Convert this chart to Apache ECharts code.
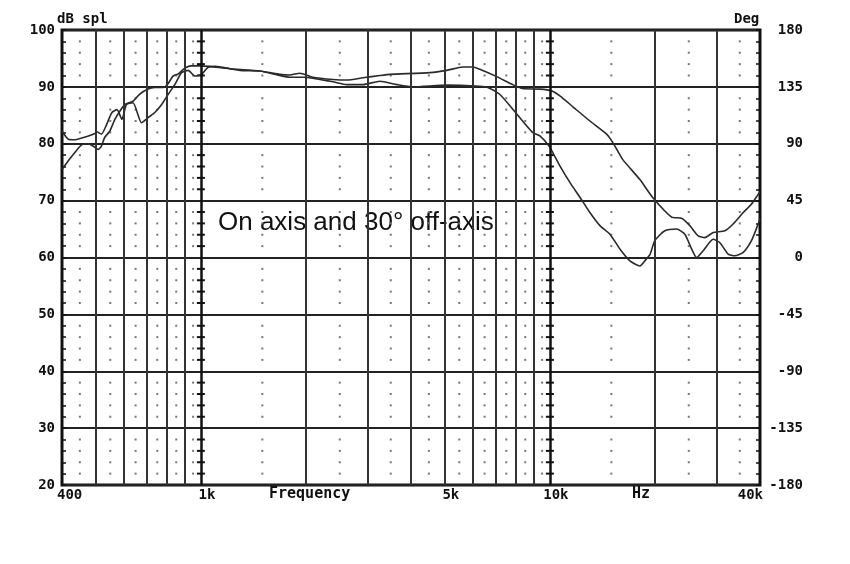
<!DOCTYPE html>
<html><head><meta charset="utf-8">
<script src="https://cdn.jsdelivr.net/npm/echarts@6/dist/echarts.min.js"></script>
<style>html,body{margin:0;padding:0;background:#fff}#c{width:850px;height:564px}</style>
</head><body><div id="c"></div>
<script>
// On-axis response (Hz, dB SPL)
const onAxisFreq = [400,417,436,455,474,497,503,519,537,556,575,594,612,639,676,706,738,772,806,842,880,920,961,1005,1047,1100,1211,1293,1476,1577,1684,1798,1921,2093,2390,2621,2914,3259,3481,4529,5065,5629,6013,6297,7041,7820,8350,9362,10110,10680,11640,13020,14540,15150,16140,18110,19730,22330,23850,25180,26610,27800,29370,31720,33500,35810,37840,39520,40000];
const onAxisDb   = [82.2,80.8,80.7,81.0,81.3,81.8,82.1,81.7,83.4,85.5,86.0,84.3,86.9,87.2,83.7,84.6,85.5,86.9,88.7,90.4,92.5,92.9,91.9,92.2,93.4,93.6,93.2,92.9,92.8,92.5,92.2,92.1,92.4,91.7,91.3,91.2,91.6,92.0,92.2,92.5,92.9,93.5,93.5,93.1,91.8,90.4,89.7,89.6,89.3,88.4,86.5,84.0,81.7,80.2,77.3,73.7,70.5,67.1,66.9,65.6,63.8,63.5,64.4,64.7,65.9,67.9,69.4,71.1,71.5];
// 30 degree off-axis response
const offAxisFreq = [400,417,436,455,474,491,508,519,530,548,567,587,606,640,667,703,738,780,802,832,862,900,940,1000,1061,1211,1476,1684,1798,1985,2193,2390,2621,2914,3259,3645,4049,5065,6297,6638,7182,7820,8915,9362,9970,10680,11410,12190,13020,13910,14860,15870,16960,18110,18930,19350,20000,21350,23070,24370,25470,26320,27500,29370,30700,32430,33880,35810,37840,39520,40000];
const offAxisDb   = [75.5,77.0,78.5,79.8,80.0,79.6,79.0,79.6,81.1,82.2,84.3,85.8,86.9,87.5,88.7,89.6,89.9,89.9,90.4,91.9,92.3,93.3,93.7,93.7,93.6,93.2,92.8,92.0,91.7,91.7,91.3,90.9,90.4,90.4,91.0,90.4,90.0,90.3,90.1,89.9,88.7,86.1,82.0,81.4,79.5,76.1,73.2,70.6,67.9,65.6,64.1,61.5,59.4,58.5,59.8,60.5,63.0,64.7,65.0,64.1,61.5,60.0,61.2,63.2,62.6,60.6,60.3,60.9,63.0,65.9,66.8];

const majorGridFreqs = [500,600,700,800,900,1000,2000,3000,4000,5000,6000,7000,8000,9000,10000,20000,30000];
const heavyGridFreqs = [1000,10000];
const minorGridFreqs = [450,550,650,750,850,950,1500,2500,3500,4500,5500,6500,7500,8500,9500,15000,25000,35000];
const minorDbLevels = [22,24,26,28,32,34,36,38,42,44,46,48,52,54,56,58,62,64,66,68,72,74,76,78,82,84,86,88,92,94,96,98];
const tickFreqs  = [400,1000,5000,10000,40000];
const tickLabels = ['400','1k','5k','10k','40k'];

const FONT = '"DejaVu Sans Mono", monospace';
const pairs = (xs, ys) => xs.map((x, i) => [x, ys[i]]);

const dots = [];
minorGridFreqs.forEach(f => minorDbLevels.forEach(d => dots.push([f, d])));
const dashes = [];
heavyGridFreqs.forEach(f => minorDbLevels.forEach(d => dashes.push([f, d])));

const tickData = tickFreqs.map((f, i) => {
  const first = i === 0, last = i === tickFreqs.length - 1;
  return {
    value: [f, 20],
    label: {
      align: first ? 'left' : (last ? 'right' : 'center'),
      offset: [first ? -5 : (last ? 3 : 6), 10]
    }
  };
});

const chart = echarts.init(document.getElementById('c'), null, {renderer: 'canvas'});
chart.setOption({
  animation: false,
  backgroundColor: '#fff',
  grid: {left: 62, right: 90, top: 30, bottom: 79, show: true, borderColor: '#111', borderWidth: 3, backgroundColor: 'transparent'},
  xAxis: {
    type: 'log', logBase: 10, min: 400, max: 40000,
    axisLine: {show: false}, axisTick: {show: false}, axisLabel: {show: false}, splitLine: {show: false}
  },
  yAxis: [{
    type: 'value', min: 20, max: 100, interval: 10,
    axisLine: {show: false},
    axisTick: {show: true, inside: true, length: 4, lineStyle: {color: '#111', width: 1.5}},
    minorTick: {show: true, splitNumber: 5, length: 4, lineStyle: {color: '#111', width: 1.5}},
    axisLabel: {margin: 7, fontFamily: FONT, fontWeight: 'bold', fontSize: 14, color: '#111'},
    splitLine: {show: true, lineStyle: {color: '#222', width: 2}}
  }, {
    type: 'value', min: -180, max: 180, interval: 45, position: 'right',
    axisLine: {show: false},
    axisTick: {show: true, inside: true, length: 4, lineStyle: {color: '#111', width: 1.5}},
    minorTick: {show: true, splitNumber: 5, length: 4, lineStyle: {color: '#111', width: 1.5}},
    axisLabel: {margin: 43, align: 'right', fontFamily: FONT, fontWeight: 'bold', fontSize: 14, color: '#111'},
    splitLine: {show: false}
  }],
  graphic: [
    {type: 'text', left: 57, top: 12, style: {text: 'dB spl', font: 'bold 14px ' + FONT, fill: '#111'}},
    {type: 'text', left: 734, top: 12, style: {text: 'Deg', font: 'bold 14px ' + FONT, fill: '#111'}},
    {type: 'text', left: 269, top: 487, style: {text: 'Frequency', font: 'bold 15px ' + FONT, fill: '#111'}},
    {type: 'text', left: 632, top: 487, style: {text: 'Hz', font: 'bold 15px ' + FONT, fill: '#111'}},
    {type: 'text', left: 218, top: 210, style: {text: 'On axis and 30° off-axis', font: '26px "Liberation Sans", Arial, sans-serif', fill: '#111'}}
  ],
  series: [
    {
      type: 'scatter', z: 1, silent: true, data: dots,
      symbol: 'rect', symbolSize: 2, itemStyle: {color: '#777', opacity: 1},
      markLine: {
        silent: true, symbol: 'none', label: {show: false},
        lineStyle: {color: '#333', width: 2, type: 'solid'},
        data: majorGridFreqs.map(f => ({xAxis: f, lineStyle: {width: heavyGridFreqs.includes(f) ? 2.5 : 2, color: heavyGridFreqs.includes(f) ? '#111' : '#333'}}))
      }
    },
    {
      type: 'scatter', z: 2, silent: true, data: dashes,
      symbol: 'rect', symbolSize: [8, 2], itemStyle: {color: '#111', opacity: 1}
    },
    {
      type: 'scatter', z: 2, silent: true, clip: false, data: tickData,
      symbolSize: 1, itemStyle: {color: 'rgba(0,0,0,0)', opacity: 1},
      label: {show: true, position: 'inside', verticalAlign: 'middle',
        formatter: p => tickLabels[p.dataIndex],
        fontFamily: FONT, fontWeight: 'bold', fontSize: 14, color: '#111', opacity: 1}
    },
    {
      name: 'On axis', type: 'line', z: 3, data: pairs(onAxisFreq, onAxisDb),
      showSymbol: false, smooth: 0.2, lineStyle: {color: '#2a2a2a', width: 1.6}
    },
    {
      name: '30° off-axis', type: 'line', z: 3, data: pairs(offAxisFreq, offAxisDb),
      showSymbol: false, smooth: 0.2, lineStyle: {color: '#2a2a2a', width: 1.6}
    }
  ]
});
</script></body></html>
